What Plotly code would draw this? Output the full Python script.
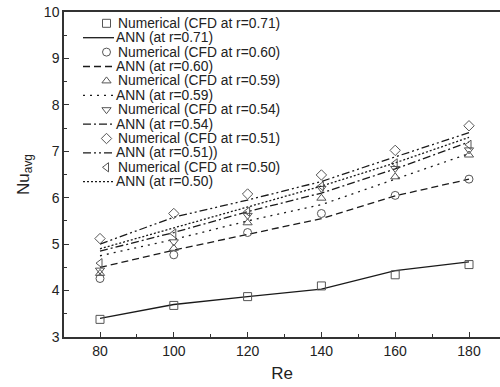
import plotly.graph_objects as go

# ---- data ----
re_vals = [80, 100, 120, 140, 160, 180]

cfd_071 = [3.38, 3.68, 3.87, 4.10, 4.34, 4.56]
cfd_060 = [4.26, 4.77, 5.25, 5.66, 6.05, 6.40]
cfd_059 = [4.37, 4.91, 5.46, 5.99, 6.45, 6.92]
cfd_054 = [4.44, 5.05, 5.62, 6.20, 6.63, 7.03]
cfd_051 = [5.12, 5.66, 6.08, 6.49, 7.02, 7.55]
cfd_050 = [4.59, 5.23, 5.70, 6.25, 6.74, 7.14]

ann_071 = [3.40, 3.70, 3.87, 4.03, 4.43, 4.62]
ann_060 = [4.50, 4.87, 5.21, 5.55, 6.04, 6.40]
ann_059 = [4.75, 5.10, 5.50, 5.85, 6.40, 6.95]
ann_054 = [4.85, 5.25, 5.70, 6.10, 6.62, 7.20]
ann_051 = [5.00, 5.58, 5.95, 6.35, 6.88, 7.40]
ann_050 = [4.90, 5.35, 5.80, 6.25, 6.75, 7.30]

x_ticks = [80, 100, 120, 140, 160, 180]
y_ticks = [3, 4, 5, 6, 7, 8, 9, 10]

series = [
    ("Numerical (CFD at r=0.71)", cfd_071, "square-open", "ANN (at r=0.71)", ann_071, "solid"),
    ("Numerical (CFD at r=0.60)", cfd_060, "circle-open", "ANN (at r=0.60)", ann_060, "7px,4px"),
    ("Numerical (CFD at r=0.59)", cfd_059, "triangle-up-open", "ANN (at r=0.59)", ann_059, "2px,5px"),
    ("Numerical (CFD at r=0.54)", cfd_054, "triangle-down-open", "ANN (at r=0.54)", ann_054, "8px,3px,2px,3px"),
    ("Numerical (CFD at r=0.51)", cfd_051, "diamond-open", "ANN (at r=0.51))", ann_051, "8px,3px,2px,3px,2px,3px"),
    ("Numerical (CFD at r=0.50)", cfd_050, "triangle-left-open", "ANN (at r=0.50)", ann_050, "2px,2px"),
]

LINE_C = "#1a1a1a"
MARK_C = "#555555"
FONT = "Liberation Sans, Arial, sans-serif"

# layout geometry (pixels)
W, H = 500, 387
L, T, B = 64, 12, 50
plot_top, plot_bot = T, H - B

fig = go.Figure()

for name_c, yc, sym, name_a, ya, dash in series:
    fig.add_trace(go.Scatter(x=re_vals, y=ya, mode="lines", name=name_a,
                             line=dict(color=LINE_C, width=1.3, dash=dash),
                             showlegend=False))
    fig.add_trace(go.Scatter(x=re_vals, y=yc, mode="markers", name=name_c,
                             marker=dict(symbol=sym, size=8, color=MARK_C,
                                         line=dict(width=1, color=MARK_C)),
                             showlegend=False))

# ---- manual legend (on a pixel-unit overlay axis) ----
row0, row_step = 23.3, 14.4
leg_mark_x = 106.5
leg_line_x = [83, 114]
text_x = 116
annotations = []
r = 0
for name_c, yc, sym, name_a, ya, dash in series:
    yy = row0 + r * row_step
    fig.add_trace(go.Scatter(x=[leg_mark_x], y=[yy], mode="markers", xaxis="x2", yaxis="y2",
                             marker=dict(symbol=sym, size=8, color=MARK_C,
                                         line=dict(width=1, color=MARK_C)),
                             showlegend=False, hoverinfo="skip"))
    annotations.append(dict(x=text_x, y=yy, xref="x2", yref="y2", text=name_c,
                            showarrow=False, xanchor="left", yanchor="middle",
                            font=dict(family=FONT, size=13.8, color="#222")))
    r += 1
    yy = row0 + r * row_step
    fig.add_trace(go.Scatter(x=leg_line_x, y=[yy, yy], mode="lines", xaxis="x2", yaxis="y2",
                             line=dict(color=LINE_C, width=1.3, dash=dash),
                             showlegend=False, hoverinfo="skip"))
    annotations.append(dict(x=leg_line_x[1], y=yy, xref="x2", yref="y2", text=name_a,
                            showarrow=False, xanchor="left", yanchor="middle",
                            font=dict(family=FONT, size=13.8, color="#222")))
    r += 1

x_lo = 80 - (100 - L) / 3.69
x_hi = 180 + (W - 469) / 3.69

fig.update_layout(
    width=W, height=H,
    margin=dict(l=L, r=0, t=T, b=B),
    paper_bgcolor="white", plot_bgcolor="white",
    font=dict(family=FONT, color="#222"),
    showlegend=False,
    annotations=annotations,
    xaxis=dict(range=[x_lo, x_hi], tickvals=x_ticks, ticks="inside", ticklen=5,
               tickwidth=1.2, tickcolor="#333", showline=True, linecolor="#333",
               linewidth=1.5, mirror=True, showgrid=False, zeroline=False,
               tickfont=dict(size=14, color="#222"),
               minor=dict(dtick=10, tick0=0, ticks="inside", ticklen=3, tickcolor="#333"),
               title=dict(text="Re", font=dict(size=17, color="#222"), standoff=10)),
    yaxis=dict(range=[3, 10], tickvals=y_ticks, ticks="inside", ticklen=5,
               tickwidth=1.2, tickcolor="#333", showline=True, linecolor="#333",
               linewidth=1.5, showgrid=False, zeroline=False,
               tickfont=dict(size=14, color="#222"),
               minor=dict(dtick=0.5, tick0=0, ticks="inside", ticklen=3, tickcolor="#333"),
               title=dict(text="Nu<sub>avg</sub>", font=dict(size=17, color="#222"), standoff=10)),
    xaxis2=dict(range=[L, W], overlaying="x", visible=False, anchor="y2"),
    yaxis2=dict(range=[plot_bot, plot_top], overlaying="y", visible=False, anchor="x2"),
)

fig.write_html("out.html")
